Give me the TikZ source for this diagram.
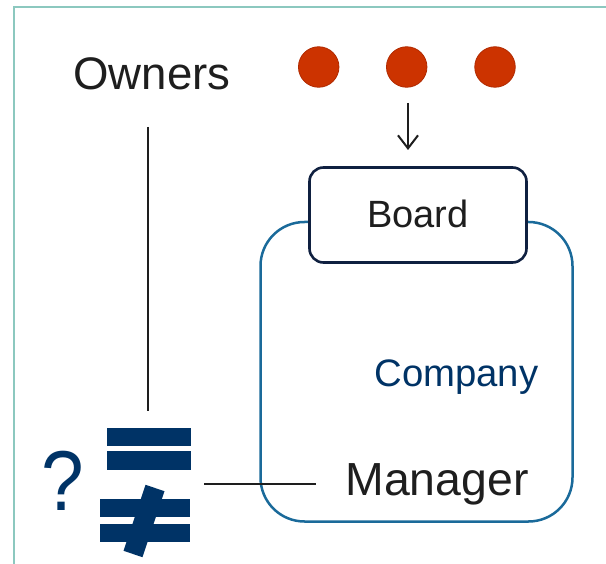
\documentclass[tikz,border=0pt]{standalone}
\usepackage{fontspec}
\setmainfont{Liberation Sans}
\usetikzlibrary{arrows.meta}
\definecolor{frameC}{HTML}{8CC8BF}
\definecolor{redC}{HTML}{CC3300}
\definecolor{redB}{HTML}{B02A00}
\definecolor{navy}{HTML}{003366}
\definecolor{boardB}{HTML}{0F2040}
\definecolor{compB}{HTML}{1A6A9A}
\definecolor{txt}{HTML}{1E1E1E}
\tikzset{
  frameline/.style={draw=frameC, line width=2pt},
  dot/.style={circle, fill=redC, draw=redB, line width=0.8pt, minimum size=40.5pt, inner sep=0pt},
  link/.style={draw=txt, line width=2pt},
  lbl/.style={inner sep=0pt, anchor=base, text=txt},
  bar/.style={fill=navy}
}
\begin{document}
\begin{tikzpicture}[x=1pt,y=-1pt]
\useasboundingbox (0,0) rectangle (606,564);
\draw[frameline] (14,566) -- (14,7) -- (608,7);
% company
\draw[draw=compB, line width=2.5pt, rounded corners=44pt] (260.5,222) rectangle (572.5,521.5);
% board
\node[draw=boardB, line width=2.6pt, fill=white, rounded corners=14pt, minimum width=217pt, minimum height=95pt, inner sep=0pt] (board) at (418,215) {};
\node[lbl, font=\fontsize{38}{38}\selectfont] (boardtxt) at (418,228) {Board};
% dots
\node[dot] (d1) at (318.7,67) {};
\node[dot] (d2) at (406.7,67) {};
\node[dot] (d3) at (495,67) {};
% arrow
\coordinate (atop) at (408,103);
\coordinate (abot) at (408,150);
\draw[link, -{Straight Barb[length=13pt, width=20pt, line width=2pt]}] (atop) -- (abot);
% texts
\node[lbl, font=\fontsize{45.6}{46}\selectfont] (owners) at (152,90) {Owners};
\node[lbl, font=\fontsize{38.3}{38}\selectfont, text=navy] (company) at (456.5,386.5) {Company};
\node[lbl, font=\fontsize{46.4}{46}\selectfont] (manager) at (437,496) {Manager};
\node[lbl, font=\fontsize{85}{85}\selectfont, text=navy, xscale=0.9] (q) at (62.5,510.5) {?};
% lines
\coordinate (vtop) at (148,127);
\coordinate (vbot) at (148,411);
\draw[link] (vtop) -- (vbot);
\coordinate (hl) at (204,483.5);
\coordinate (hr) at (315.5,483.5);
\draw[link] (hl) -- (hr);
% equals
\fill[bar] (106.5,428) rectangle (191,446.5);
\fill[bar] (106.5,451.5) rectangle (191,470.5);
% not equal
\fill[bar] (100,499) rectangle (189.5,516.5);
\fill[bar] (100,524) rectangle (189.5,542);
\fill[bar] (164.5,491.2) -- (145.5,484.8) -- (123.5,550.8) -- (142.5,557.2) -- cycle;
\end{tikzpicture}
\end{document}
